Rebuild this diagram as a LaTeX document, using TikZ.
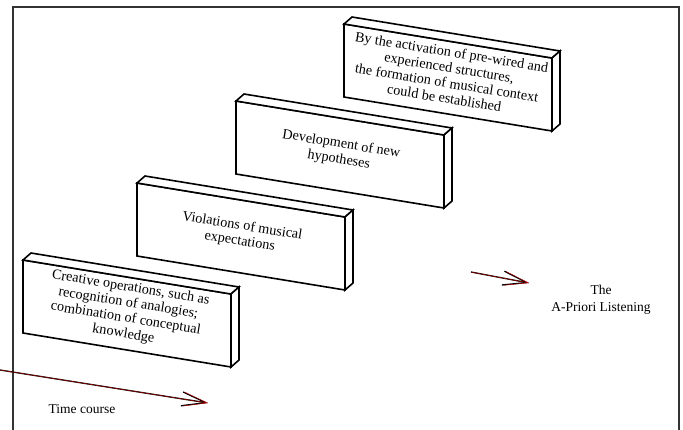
\documentclass[tikz,border=0pt]{standalone}
\usepackage{fontspec}
\setmainfont{Liberation Serif}
\usetikzlibrary{arrows.meta}

\begin{document}
\begin{tikzpicture}
[x=1pt,y=-1pt,
  slabDecorate/.style={draw,line width=1.6pt,line join=miter,fill=white},
  textDecorate/.style={align=center,rotate=-9.2,inner sep=0pt,
    font=\fontsize{14.2}{15.5}\selectfont},
  labelDecorate/.style={align=center,inner sep=0pt,
    font=\fontsize{13.5}{16.5}\selectfont},
  arrowDecorate/.style={-{Straight Barb[length=24pt,width=14pt]}},
  frameDecorate/.style={draw=black!80,line width=1.8pt}]
\useasboundingbox (0,0) rectangle (683,429);
%% frame
\draw[frameDecorate] (13,431) -- (13,7) -- (679,7) -- (679,431);
%% slabs, back to front
\foreach \slabname/\x/\y/\txt in {
  activation/344/24/{By the activation of pre-wired and\\experienced structures,\\the formation of musical context\\could be established},
  hypotheses/236/101/{Development of new\\hypotheses},
  violations/137/183/{Violations of musical\\expectations},
  creative/23/260/{Creative operations, such as\\recognition of analogies;\\combination of conceptual\\knowledge}}
{
  \draw[slabDecorate] (\x,\y) -- (\x+208,\y+34) -- (\x+208,\y+107) -- (\x,\y+73) -- cycle;
  \draw[slabDecorate] (\x,\y) -- (\x+8,\y-7) -- (\x+216,\y+27) -- (\x+208,\y+34) -- cycle;
  \draw[slabDecorate] (\x+208,\y+34) -- (\x+216,\y+27) -- (\x+216,\y+100) -- (\x+208,\y+107) -- cycle;
  \node (\slabname) at (\x+104,\y+51) [textDecorate] {\txt};
}
%% labels
\node (time) at (82,409) [labelDecorate] {Time course};
\node (apriori) at (601,300) [labelDecorate] {The\\A-Priori Listening};
%% arrows
\coordinate (timeStart) at (0,370);
\coordinate (timeEnd) at (208,403);
\coordinate (listenStart) at (471,272);
\coordinate (listenEnd) at (529,283);
\foreach \startnode/\endnode in {timeStart/timeEnd, listenStart/listenEnd}
{
  \draw[arrowDecorate,line width=1.3pt] (\startnode) -- (\endnode);
  \draw[arrowDecorate,line width=0.4pt,red!80!black] (\startnode) -- (\endnode);
}
\end{tikzpicture}
\end{document}
